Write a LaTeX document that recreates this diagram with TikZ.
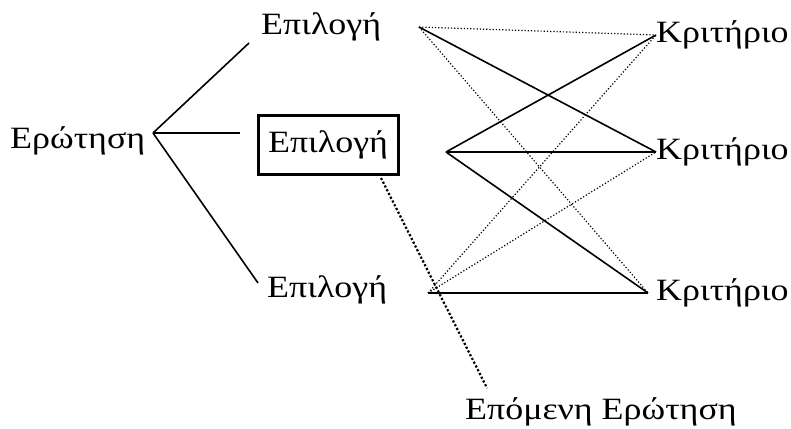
\documentclass[tikz,border=0pt]{standalone}
\usepackage{fontspec}
\setmainfont{Liberation Serif}[FakeStretch=1.16]
\begin{document}
\begin{tikzpicture}[x=1pt, y=-1pt, font=\fontsize{31}{36}\selectfont,
    link/.style={line width=1.6pt},
    weak/.style={line width=1.2pt, dotted},
    lbl/.style={inner sep=0pt, anchor=base west},
    crit/.style={inner sep=0pt, anchor=west}]
    \useasboundingbox (0,0) rectangle (791,428);

    % Question and its choices
    \node[lbl] (q) at (10,148) {Ερώτηση};
    \node[lbl] (c1) at (261,35) {Επιλογή};
    \node[draw, line width=3pt, minimum width=140pt, minimum height=59pt] (c2) at (328,144.5) {Επιλογή};
    \node[lbl] (c3) at (267,297) {Επιλογή};
    \node[lbl] (next) at (465,419) {Επόμενη Ερώτηση};

    % Criteria
    \node[crit] (k1) at (656,35) {Κριτήριο};
    \node[crit] (k2) at (656,152) {Κριτήριο};
    \node[crit] (k3) at (656,293) {Κριτήριο};

    % Branch points
    \coordinate (fork) at (153,133);
    \coordinate (t1) at (249,43);
    \coordinate (t2) at (240,133);
    \coordinate (t3) at (258,283);
    \coordinate (a1) at (419,27);
    \coordinate (a2) at (446,152);
    \coordinate (a3) at (428,293);
    \coordinate (e3) at (648,293);
    \coordinate (n0) at (381,178);
    \coordinate (n1) at (487,388);

    \foreach \t in {t1,t2,t3}
        \draw[link] (fork) -- (\t);

    % Choice-criterion links
    \foreach \a/\k in {a1/k2.west, a2/k1.west, a2/k2.west, a2/e3, a3/e3}
        \draw[link] (\a) -- (\k);
    \foreach \a/\k in {a1/k1.west, a1/e3, a3/k1.west, a3/k2.west}
        \draw[weak] (\a) -- (\k);

    % On to the next question
    \draw[line width=2.2pt, dotted] (n0) -- (n1);
\end{tikzpicture}
\end{document}
